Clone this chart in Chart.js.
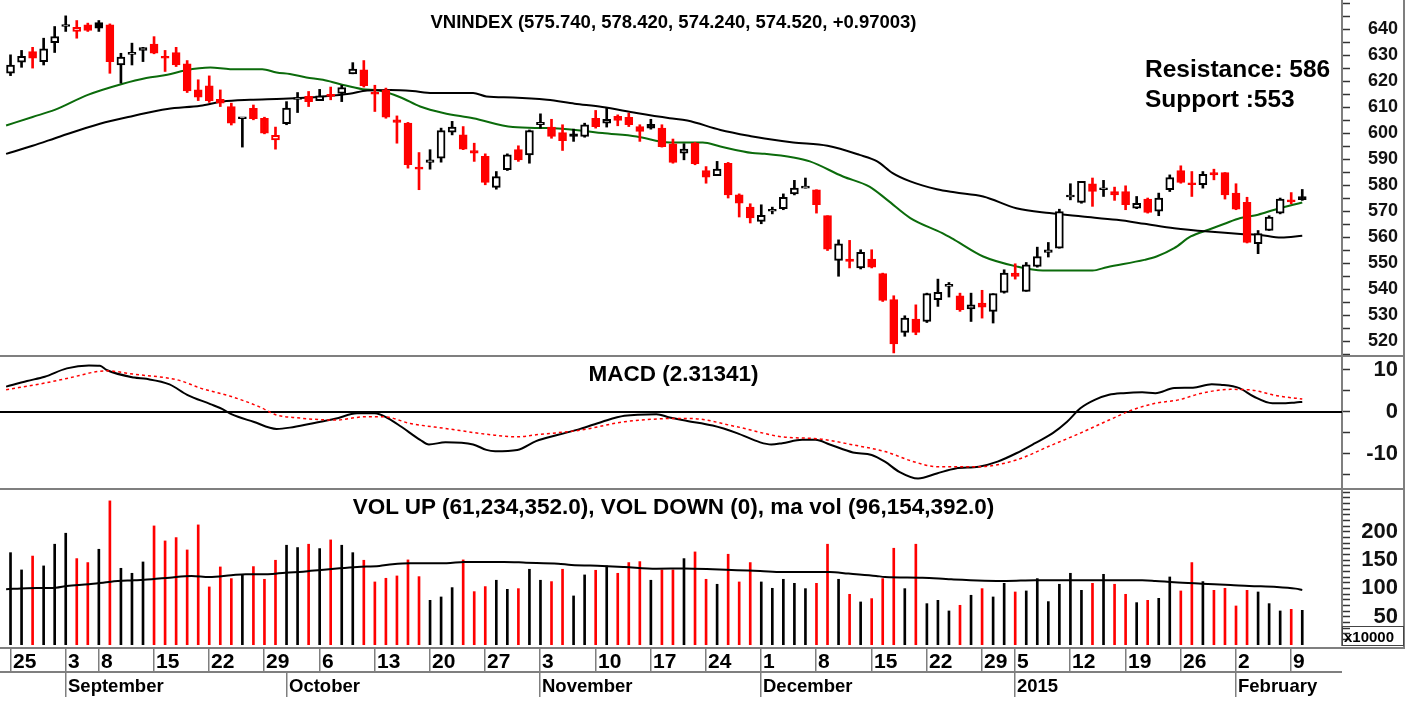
<!DOCTYPE html>
<html>
<head>
<meta charset="utf-8">
<title>VNINDEX</title>
<script src="https://cdn.jsdelivr.net/npm/chart.js@4.4.1/dist/chart.umd.min.js"></script>
<style>
  html, body { margin:0; padding:0; background:#fff; }
  body { position:relative; width:1412px; height:709px; overflow:hidden; font-family:"Liberation Sans", Arial, sans-serif; color:#000; }
  canvas { position:absolute; left:0; }
  .line { position:absolute; background:#7f7f7f; }
  .lbl { position:absolute; font-weight:bold; white-space:nowrap; line-height:1; }
  .ttl { left:5px; width:1337px; text-align:center; }
  #xbox { position:absolute; left:1342px; top:626px; width:62px; height:20px; border:1px solid #444; overflow:hidden; font-weight:bold; font-size:15px; line-height:20px; padding-left:1px; box-sizing:border-box; }
</style>
</head>
<body>
<canvas id="priceChart" width="1412" height="357" style="top:0"></canvas>
<canvas id="macdChart" width="1412" height="132" style="top:357px"></canvas>
<canvas id="volChart" width="1412" height="219" style="top:490px"></canvas>
<div class="line" style="left:0;top:355px;width:1405px;height:2px"></div>
<div class="line" style="left:0;top:488px;width:1405px;height:2px"></div>
<div class="line" style="left:1403px;top:0;width:2px;height:648px"></div>
<div class="lbl ttl" style="top:13px;font-size:18.5px">VNINDEX (575.740, 578.420, 574.240, 574.520, +0.97003)</div>
<div class="lbl" style="left:1145px;top:57px;font-size:24.5px">Resistance: 586</div>
<div class="lbl" style="left:1145px;top:87px;font-size:24.5px">Support :553</div>
<div class="lbl ttl" style="top:363px;font-size:22.5px">MACD (2.31341)</div>
<div class="lbl ttl" style="top:496px;font-size:22.5px">VOL UP (61,234,352.0), VOL DOWN (0), ma vol (96,154,392.0)</div>
<div id="xbox">x10000</div>
<script>
// ---- daily candles, 25 Aug 2014 .. 10 Feb 2015 (index = trading day) ----
const opens = [623.1,627.4,631.5,627.6,634.9,641.1,639.2,641.7,642.6,641.7,
  626.3,630.4,631.9,634.3,629.6,631.1,626.7,616.7,618.3,613.1,
  610.3,605.6,609.6,605.8,597.5,603.7,613.0,614.2,612.6,614.8,
  615.4,622.9,624.4,615.4,616.7,605.2,603.9,586.6,588.8,590.4,
  600.4,599.4,593.4,591.1,579.2,586.0,593.7,591.7,603.3,602.4,
  600.3,599.8,598.8,605.8,603.9,606.5,606.2,602.6,603.5,602.0,
  596.0,592.4,596.2,585.7,583.7,588.5,576.3,571.6,566.1,570.0,
  571.0,576.7,578.9,578.3,568.3,551.1,551.6,548.2,551.6,546.0,
  536.0,523.4,528.5,527.6,536.0,541.1,537.5,532.4,534.7,531.5,
  538.8,546.2,539.2,548.8,554.2,555.8,575.5,573.4,580.6,578.3,
  577.6,577.6,571.2,574.7,570.0,578.3,585.7,580.8,580.2,584.9,
  584.9,577.0,573.4,557.5,562.6,569.3,574.2,575.7];
const highs = [630.2,631.9,633.1,636.6,641.1,645.2,643.4,642.4,643.4,642.1,
  630.8,634.7,633.1,637.2,631.9,633.1,628.0,620.6,622.1,616.7,
  611.6,606.0,610.9,606.2,602.4,612.2,615.7,616.1,616.9,617.8,
  618.5,627.2,628.0,618.5,617.4,606.7,604.2,592.6,593.7,602.0,
  604.6,602.6,596.2,592.1,585.3,592.1,595.2,601.3,607.5,605.4,
  603.3,601.6,603.9,608.8,609.7,607.1,607.8,603.3,605.4,603.3,
  597.8,596.0,596.5,587.2,589.2,588.8,576.7,572.9,572.5,571.6,
  576.7,581.9,582.8,578.3,568.3,559.0,558.8,555.2,555.2,546.2,
  537.5,529.8,534.0,538.5,543.9,542.6,538.5,538.5,539.6,538.3,
  547.5,549.8,550.3,556.2,558.0,570.8,580.6,581.5,582.8,581.9,
  579.3,579.8,575.7,575.1,577.0,584.0,587.5,585.3,585.3,586.2,
  584.9,580.6,575.4,562.6,568.3,575.1,577.2,578.4];
const lows = [622.2,625.4,625.1,626.3,631.1,639.2,636.6,639.2,639.2,623.1,
  619.3,626.3,627.6,630.6,623.8,625.7,615.7,612.6,611.9,610.3,
  603.2,594.7,605.2,599.8,593.9,603.3,608.0,610.3,612.6,612.9,
  612.2,622.9,617.8,608.4,605.8,596.2,586.6,578.3,586.2,588.9,
  599.4,593.7,589.2,580.2,578.5,585.7,589.2,588.5,602.0,598.1,
  593.4,596.9,598.5,602.0,602.4,602.9,602.6,596.9,601.6,594.7,
  588.5,589.8,587.9,580.8,583.7,575.1,567.8,565.5,565.2,569.0,
  570.6,576.3,578.9,569.3,554.9,545.0,548.2,547.8,548.2,535.3,
  515.5,521.9,522.5,527.2,533.4,537.0,531.5,527.6,528.9,527.0,
  538.5,543.9,539.2,548.5,552.4,555.8,574.4,573.1,571.9,575.7,
  574.2,570.6,571.0,569.3,568.3,577.6,580.8,575.7,578.9,582.1,
  574.7,570.6,557.8,553.7,562.6,569.0,572.9,574.2];
const closes = [626.3,629.6,628.9,632.5,637.2,641.5,640.8,639.6,640.5,627.6,
  629.3,630.8,633.0,630.8,628.9,626.3,616.3,613.9,612.6,611.6,
  603.9,605.8,605.6,600.1,599.2,609.7,613.4,612.2,614.4,614.2,
  617.6,624.7,618.3,615.1,606.2,604.2,587.9,586.2,589.8,601.1,
  602.4,593.9,592.4,581.1,583.4,591.7,589.8,601.1,604.2,598.8,
  597.2,598.8,603.3,602.6,605.4,605.0,603.3,600.7,602.0,594.9,
  588.8,593.9,588.3,583.1,586.2,576.3,573.1,567.4,568.4,570.6,
  575.4,578.9,579.6,572.5,555.4,557.5,550.7,554.2,548.5,535.7,
  519.0,528.9,523.4,538.3,538.8,541.7,532.1,534.0,533.1,538.3,
  546.2,544.9,549.4,552.6,555.2,569.9,576.0,581.5,577.6,578.9,
  576.3,572.5,573.1,569.6,575.1,583.0,581.1,580.2,584.2,584.0,
  576.3,570.8,558.0,561.4,567.8,574.7,573.6,574.5];
// volume, x10000 shares
const volumes = [163,132.5,157,139.6,177.9,197.3,152.5,145.5,169,254.4,
  135.4,126.6,146.6,210.2,183.7,189.6,167.8,212,102.5,137.8,
  117.2,123,138.4,116,149.6,176.1,172,177.9,170.2,185.5,
  176.1,163,149.6,111.3,117.8,121.9,150.2,120.7,78.9,84.8,
  101.3,150.2,94.2,103.1,114.3,98.3,99.5,133.7,114.3,111.9,
  133.7,86.6,123.7,131.9,139.6,126.6,145.5,147.2,114.3,132.5,
  132.5,152.5,164.3,116,107.2,160.2,111.3,145.5,111.3,100.1,
  116,108.9,99.5,108.9,177.9,116,89.5,76,81.9,117.2,
  170.8,99.5,177.9,73,78.9,60.1,70.1,87.8,99.5,84.8,
  108.9,93.6,95.4,117.2,76.6,107.2,126.6,96.5,108.9,124.8,
  107.2,89.5,74.8,78.9,82.4,120.1,95.4,145.5,111.9,96.5,
  100.1,68.9,96.5,93.6,73,60.1,63,61.2];

// moving averages (day index, value)
const fastMaIdx = [-0.4,2,4,7,10.1,12.3,14.2,15.8,18.1,19.9,22.8,24.1,25.3,26.8,28.3,29.8,31.9,33.4,35.3,37.1,
  39.2,41.9,45.5,48.6,51.6,53.6,56.7,59.7,62.7,64.3,67.2,68.3,70.9,72.4,75.4,77.8,79.4,81.5,84.4,85.5,
  88.1,91.1,93.5,98,99.3,102.7,103.8,105.4,106.9,108.5,109.9,111.4,113,114.5,117];
const fastMaVal = [603.0,606.3,609.0,614.8,619.0,621.3,622.5,624.2,625.3,624.7,624.7,623.4,622.8,621.5,620.6,619.0,617.0,616.5,613.9,610.3,
  607.8,605.8,602.4,602.0,601.1,600.1,598.8,596.5,596.5,594.9,592.4,592.1,590.7,589.2,583.4,579.5,574.4,567.4,561.6,559.0,
  552.6,548.8,547.2,547.2,548.5,551.3,552.6,555.8,560.3,562.9,565.1,567.4,568.7,570.6,573.4];
const slowMaIdx = [-0.4,2,4.5,8.1,11.1,14.2,17.2,19.2,21.7,24.7,28.3,30.7,32.3,34.4,36.4,38.2,41.9,43.1,45.5,48.6,
  51.1,53.6,56.7,59.7,61.3,64.3,67.2,68.3,70.9,74,76.9,78.5,79.9,81.5,83.9,85.5,88.1,91.1,94.1,97.1,
  100.2,102.7,105.4,108.5,111.4,113,115.1,117];
const slowMaVal = [592.1,595.2,598.8,603.7,606.7,609.4,610.6,612.2,612.9,613.3,614.2,615.2,616.5,616.7,616.3,615.5,615.5,614.2,613.8,612.9,
  611.4,610.1,607.8,605.8,604.9,601.3,598.8,598.0,596.5,595.2,591.7,589.2,584.7,581.5,578.5,577.3,575.7,571.2,569.3,568.0,
  566.7,565.2,563.5,562.2,561.3,561.0,559.9,560.6];

// MACD and signal (day index, value)
const macdIdx = [-0.4,1.5,3.1,5.1,7.1,8.1,8.7,11.2,12.3,14.4,16,18.1,19.2,20,22,24.1,25.3,27.3,29.4,31.4,
  33,34.2,35.4,37.1,37.9,39.4,41.9,43.1,43.9,45.9,47.6,49.6,51.6,53.6,55.6,58.5,59.7,61.3,63.6,65.8,
  67.9,68.9,69.9,71.7,72.9,74.2,76.3,78,79.2,80.5,82.2,83.9,85.6,87.7,89.4,91.1,92.8,94.4,95.7,96.9,
  98.2,99.5,100.8,102.5,103.7,105.4,107.1,108.8,109.6,111.3,112.6,114.3,115.5,116.4,117];
const macdVal = [5.95,7.3,8.3,10.3,11.0,10.9,9.9,8.1,7.8,6.5,4.0,1.8,0.6,-0.6,-2.4,-4.1,-3.8,-2.8,-1.7,-0.4,
  -0.4,-1.6,-3.6,-6.7,-7.8,-7.3,-7.8,-9.1,-9.4,-9.1,-7.0,-5.5,-4.1,-2.4,-1.0,-0.6,-1.4,-2.2,-3.3,-5.1,
  -7.3,-7.8,-7.5,-6.7,-6.7,-7.8,-9.7,-10.3,-11.9,-14.3,-15.9,-14.7,-13.5,-13.1,-11.9,-9.9,-7.5,-5.1,-2.4,0.8,
  2.8,4.0,4.4,4.6,4.4,5.6,5.7,6.5,6.4,5.6,3.6,2.0,2.0,2.2,2.3];
const signalIdx = [-0.4,3.1,5.1,8.7,11.2,15.2,17.2,20,22.5,24.1,25.7,29.4,32.2,33.8,36.2,39.4,43.5,45.9,47.6,51.6,
  55.6,58.9,61.5,65.8,69.9,73.3,76.3,79.2,81.8,83.9,87.7,91.1,94,96.9,99.5,101.6,103.7,105.8,107.9,110.5,
  112.2,114.7,117];
const signalVal = [5.2,6.8,7.9,9.7,8.9,7.5,5.6,3.6,1.2,-0.8,-1.4,-2.0,-1.2,-1.2,-2.8,-4.0,-5.5,-6.0,-5.5,-4.4,
  -2.4,-1.7,-1.6,-3.6,-6.0,-6.5,-7.9,-9.5,-11.9,-13.1,-13.1,-11.5,-8.3,-5.1,-2.0,0.4,2.0,2.8,4.4,5.3,
  5.2,3.8,3.0];

// volume moving average (day index, value)
const volMaIdx = [-0.4,1.5,4.1,5.1,7.1,9.1,11.2,12.8,14.4,16.4,18,20,21.3,23.3,24.9,26.5,28.1,29.8,31.4,33.4,
  34.6,36.2,39.5,41.1,44.7,46.7,49.6,50.8,53.6,55.6,58.5,61,63.6,65.8,67.9,69.9,74.2,75.9,78.4,79.2,
  82.6,85.2,90.2,92.8,95.3,102.5,103.7,105.4,107.9,110.5,112.2,114.7,116.4,117];
const volMaVal = [98.4,100.2,101.2,104.2,107.2,111.8,114.3,116,118.9,121.9,120.1,123.1,124.9,124.9,127.7,129.5,132.5,135.5,137.8,139.6,
  142.6,144.3,144.3,146.6,146.6,145.4,143.6,141.3,139.6,137.8,134.8,135,133.7,132,130.7,129,129,126,121.9,120.1,
  118.9,116,113.1,114.3,114.3,114.3,113.1,110.7,108.3,106,104.2,102.5,99.5,97.2];

// date axis
const dayTickIdx = [0,5,8,13,18,23,28,33,38,43,48,53,58,63,68,73,78,83,88,91,96,101,106,111,116];
const dayTickText = ['25','3','8','15','22','29','6','13','20','27','3','10','17','24','1','8','15','22','29','5','12','19','26','2','9'];
const monthIdx = [5,25,48,68,91,111];
const monthText = ['September','October','November','December','2015','February'];

const RED = '#ff0000', BLK = '#000000', GRID = '#7f7f7f';
const FONT = '"Liberation Sans", Arial, sans-serif';
const days = closes.map((_, i) => i);
const candleColor = i => (i === 0 || closes[i] >= closes[i - 1]) ? BLK : RED;
const pts = (xs, ys) => xs.map((x, k) => ({ x, y: ys[k] }));

// right-hand value axis: 56px wide, labels right-aligned at x=1398
function yAxis(opts) {
  return {
    position: 'right',
    min: opts.min, max: opts.max, bounds: 'data',
    afterBuildTicks: s => { s.ticks = opts.ticks.map(v => ({ value: v })); },
    afterFit: s => { s.width = 56; s.paddingTop = 0; s.paddingBottom = 0; },
    grid: { drawOnChartArea: false, drawTicks: true, tickLength: 8, tickColor: '#333', tickWidth: 1.5 },
    border: { display: true, color: GRID, width: 2 },
    ticks: {
      autoSkip: false, crossAlign: 'far', padding: 4, color: '#111',
      font: { family: FONT, size: opts.size, weight: 'bold' },
      callback: v => opts.labels.includes(v) ? String(v) : ''
    }
  };
}

const xAxis = { type: 'linear', display: false, min: -0.5, max: 120.6, offset: false };

function baseOptions(padding, y) {
  return {
    responsive: false, animation: false,
    layout: { padding },
    plugins: { legend: { display: false }, tooltip: { enabled: false } },
    scales: { x: xAxis, y }
  };
}

const range = (a, b, s) => { const r = []; for (let v = a; v <= b + 1e-9; v += s) r.push(Math.round(v * 10) / 10); return r; };

// Price panel
new Chart(document.getElementById('priceChart'), {
  type: 'bar',
  data: {
    datasets: [
      { type: 'line', data: pts(fastMaIdx, fastMaVal), borderColor: '#0b6b0b', borderWidth: 2, pointRadius: 0, cubicInterpolationMode: 'monotone', order: 5 },
      { type: 'line', data: pts(slowMaIdx, slowMaVal), borderColor: '#000', borderWidth: 2, pointRadius: 0, cubicInterpolationMode: 'monotone', order: 4 },
      { data: days.map(i => ({ x: i, y: [lows[i], highs[i]] })), backgroundColor: c => candleColor(c.dataIndex),
        barThickness: 2, grouped: false, order: 3 },
      { data: days.map(i => ({ x: i, y: [Math.min(opens[i], closes[i]), Math.max(opens[i], closes[i])] })),
        backgroundColor: c => closes[c.dataIndex] < opens[c.dataIndex] ? candleColor(c.dataIndex) : '#fff',
        borderColor: c => candleColor(c.dataIndex), borderWidth: 2, borderSkipped: false,
        barThickness: 8, minBarLength: 2, grouped: false, order: 2 }
    ]
  },
  options: baseOptions({ top: 0, bottom: 2, left: 5, right: 14 },
    yAxis({ min: 514.7, max: 651.3, ticks: range(515, 650, 5), labels: range(520, 640, 10), size: 18 }))
});

// MACD zero line, drawn across the full panel width
const zeroLine = {
  id: 'zeroLine',
  beforeDatasetsDraw(chart) {
    const ctx = chart.ctx, y = Math.round(chart.scales.y.getPixelForValue(0));
    ctx.save();
    ctx.fillStyle = '#000';
    ctx.fillRect(0, y - 1, chart.chartArea.right, 2);
    ctx.restore();
  }
};

// MACD panel
new Chart(document.getElementById('macdChart'), {
  type: 'line',
  data: {
    datasets: [
      { data: pts(signalIdx, signalVal), borderColor: RED, borderWidth: 1.5, borderDash: [3, 3], pointRadius: 0, cubicInterpolationMode: 'monotone' },
      { data: pts(macdIdx, macdVal), borderColor: BLK, borderWidth: 2, pointRadius: 0, cubicInterpolationMode: 'monotone' }
    ]
  },
  options: baseOptions({ top: 0, bottom: 0, left: 5, right: 14 },
    yAxis({ min: -18.4, max: 13.0, ticks: range(-15, 10, 5), labels: [-10, 0, 10], size: 22 })),
  plugins: [zeroLine]
});

// Volume panel + date axis
const dateAxis = {
  id: 'dateAxis',
  afterDraw(chart) {
    const ctx = chart.ctx, x = chart.scales.x;
    const top = chart.chartArea.bottom + 2, mid = top + 24, bot = mid + 26;
    ctx.save();
    ctx.fillStyle = GRID;
    ctx.fillRect(0, top, 1405, 2);
    ctx.fillRect(0, mid, 1342, 2);
    ctx.font = 'bold 21px ' + FONT;
    dayTickIdx.forEach((d, k) => {
      const px = Math.round(x.getPixelForValue(d));
      ctx.fillStyle = GRID;
      ctx.fillRect(px - 1, top, 1.5, mid - top);
      ctx.fillStyle = '#000';
      ctx.fillText(dayTickText[k], px + 2, mid - 3);
    });
    ctx.font = 'bold 18.5px ' + FONT;
    monthIdx.forEach((d, k) => {
      const px = Math.round(x.getPixelForValue(d));
      ctx.fillStyle = GRID;
      ctx.fillRect(px - 1, mid, 1.5, bot - mid);
      ctx.fillStyle = '#000';
      ctx.fillText(monthText[k], px + 2, mid + 21);
    });
    ctx.restore();
  }
};

new Chart(document.getElementById('volChart'), {
  type: 'bar',
  data: {
    datasets: [
      { type: 'line', data: pts(volMaIdx, volMaVal), borderColor: '#000', borderWidth: 2, pointRadius: 0, cubicInterpolationMode: 'monotone', order: 1 },
      { data: days.map(i => ({ x: i, y: volumes[i] })), backgroundColor: c => candleColor(c.dataIndex),
        barThickness: 2, grouped: false, order: 2 }
    ]
  },
  options: baseOptions({ top: 0, bottom: 64, left: 5, right: 14 },
    yAxis({ min: 0, max: 273.6, ticks: range(10, 270, 10), labels: [50, 100, 150, 200], size: 22 })),
  plugins: [dateAxis]
});
</script>
</body>
</html>
